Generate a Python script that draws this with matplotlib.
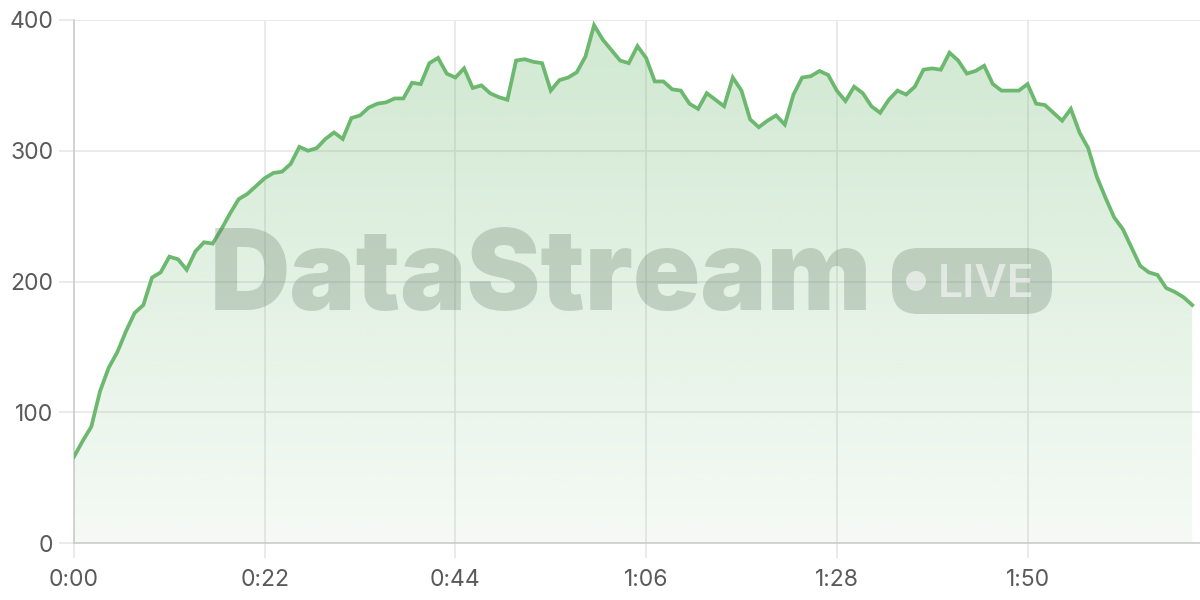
import numpy as np
import matplotlib
matplotlib.use("Agg")
import matplotlib.pyplot as plt
from matplotlib.patches import FancyBboxPatch, Circle
from matplotlib.transforms import IdentityTransform

# ---- data (seconds -> value) ----
seconds = list(range(130))
values = [66, 78, 89, 116, 134, 146, 162, 176, 182, 203,
          207, 219, 217, 209, 223, 230, 229, 240, 252, 263,
          267, 273, 279, 283, 284, 290, 303, 300, 302, 309,
          314, 309, 325, 327, 333, 336, 337, 340, 340, 352,
          351, 367, 371, 359, 356, 363, 348, 350, 344, 341,
          339, 369, 370, 368, 367, 346, 354, 356, 360, 372,
          396, 385, 377, 369, 367, 380, 371, 353, 353, 347,
          346, 336, 332, 344, 339, 334, 356, 346, 324, 318,
          323, 327, 320, 343, 356, 357, 361, 358, 346, 338,
          349, 344, 334, 329, 339, 346, 343, 349, 362, 363,
          362, 375, 369, 359, 361, 365, 351, 346, 346, 346,
          351, 336, 335, 329, 323, 332, 314, 302, 280, 264,
          249, 240, 226, 212, 207, 205, 195, 192, 188, 182]
xtick_pos = [0, 22, 44, 66, 88, 110]
xtick_labels = ["0:00", "0:22", "0:44", "1:06", "1:28", "1:50"]
ytick_pos = [0, 100, 200, 300, 400]

LINE = "#6cb86f"
GRID = "#e6e6e6"
TXT = "#5a5a5a"
plt.rcParams['font.family'] = ['Inter', 'DejaVu Sans']

W, H = 1200, 600
fig = plt.figure(figsize=(W / 100, H / 100), dpi=100)
ax = fig.add_axes([74 / W, 1 - 543 / H, (W - 74) / W, (543 - 20) / H])

x = np.array(seconds, dtype=float)
y = np.array(values, dtype=float)

# gradient fill under line
poly = ax.fill_between(x, y, 0, color="none", lw=0, zorder=1)
grad = np.linspace(0.07, 0.32, 256).reshape(-1, 1)
rgb = matplotlib.colors.to_rgb(LINE)
img = np.zeros((256, 1, 4))
img[..., 0], img[..., 1], img[..., 2] = rgb
img[..., 3] = grad[:, 0:1]
im = ax.imshow(img, extent=[x.min(), x.max(), 0, 400], origin="lower",
               aspect="auto", zorder=1, interpolation="bilinear")
im.set_clip_path(poly.get_paths()[0], transform=ax.transData)

ax.plot(x, y, color=LINE, lw=2.7, solid_joinstyle="miter", zorder=3)

ax.set_xlim(0, 129.9)
ax.set_ylim(0, 400)
ax.set_xticks(xtick_pos)
ax.set_xticklabels(xtick_labels)
ax.set_yticks(ytick_pos)
ax.grid(True, color=GRID, lw=1.2, zorder=0)
ax.set_axisbelow(True)
for s in ["top", "right"]:
    ax.spines[s].set_visible(False)
for s in ["left", "bottom"]:
    ax.spines[s].set_color("#cccccc")
    ax.spines[s].set_linewidth(1.2)
ax.tick_params(axis="both", colors=GRID, labelcolor=TXT, labelsize=16.5,
               length=11, width=1.2)
ax.tick_params(axis="y", pad=4)
ax.tick_params(axis="x", pad=8)

# watermark
WM = (0.39, 0.47, 0.39, 0.28)
fig.text(210 / W, 1 - 310 / H, "DataStream", fontsize=80, fontweight="black",
         color=WM, ha="left", va="baseline", zorder=5)
badge = FancyBboxPatch((892, H - 314), 160, 66,
                       boxstyle="round,pad=0,rounding_size=26",
                       transform=IdentityTransform(), facecolor=WM,
                       edgecolor="none", zorder=5)
fig.patches.append(badge)
dot = Circle((916, H - 281), 10, transform=IdentityTransform(),
             facecolor=(1, 1, 1, 0.55), edgecolor="none", zorder=6)
fig.patches.append(dot)
fig.text(938 / W, 1 - 297 / H, "LIVE", fontsize=32, fontweight="semibold",
         color=(1, 1, 1, 0.55), ha="left", va="baseline", zorder=6)

fig.savefig("out.png", dpi=100)
